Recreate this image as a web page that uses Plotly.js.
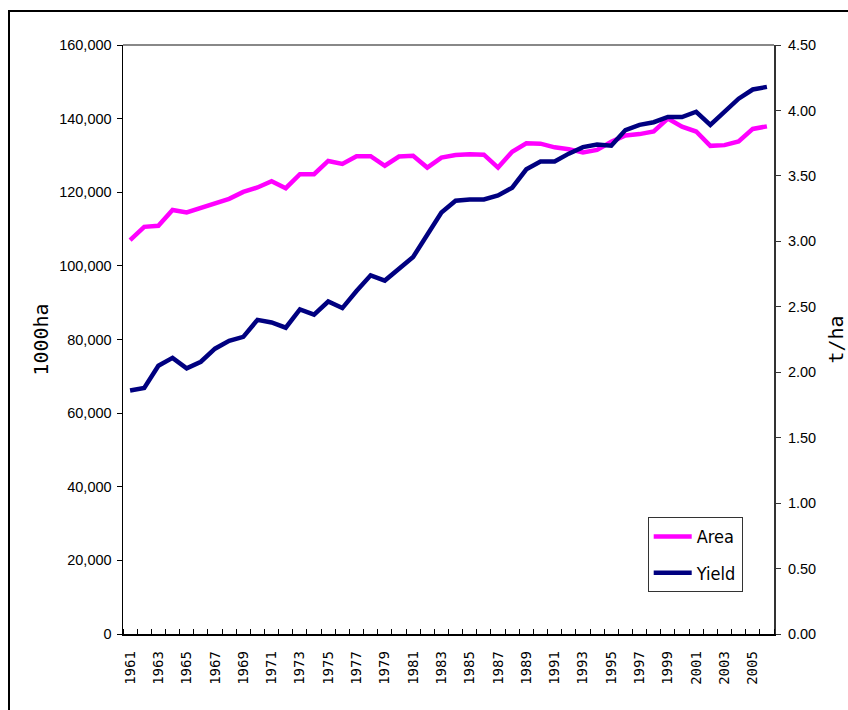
<!DOCTYPE html>
<html>
<head>
<meta charset="utf-8">
<script src="https://cdn.plot.ly/plotly-3.0.1.min.js"></script>
<style>
  html, body { margin: 0; padding: 0; background: #fff; }
  #wrap { position: relative; width: 848px; height: 710px; overflow: hidden; }
  #chart { position: absolute; left: 0; top: 0; width: 848px; height: 710px; }
  #frame { position: absolute; left: 8px; top: 10px; width: 900px; height: 800px;
           border-left: 2px solid #000; border-top: 2px solid #000; pointer-events: none; }
</style>
</head>
<body>
<div id="wrap">
  <div id="chart"></div>
  <div id="frame"></div>
</div>
<script>
const years = [1961,1962,1963,1964,1965,1966,1967,1968,1969,1970,
               1971,1972,1973,1974,1975,1976,1977,1978,1979,1980,
               1981,1982,1983,1984,1985,1986,1987,1988,1989,1990,
               1991,1992,1993,1994,1995,1996,1997,1998,1999,2000,
               2001,2002,2003,2004,2005,2006];

const area = [107000,110600,110900,115200,114500,115700,116800,118200,120100,121300,
              123000,121100,124900,124900,128500,127700,129800,129800,127200,129700,
              129900,126700,129400,130100,130300,130200,126700,131000,133300,133200,
              132200,131700,130800,131500,133700,135400,135800,136500,140000,137800,
              136500,132600,132800,133800,137200,137900];

const yieldT = [1.86,1.88,2.05,2.11,2.03,2.08,2.18,2.24,2.27,2.40,
                2.38,2.34,2.48,2.44,2.54,2.49,2.62,2.74,2.70,2.79,
                2.88,3.05,3.22,3.31,3.32,3.32,3.35,3.41,3.55,3.61,
                3.61,3.67,3.72,3.74,3.73,3.85,3.89,3.91,3.95,3.95,
                3.99,3.89,3.99,4.09,4.16,4.18];

const labelYears = years.filter(y => y % 2 === 1 && y <= 2005);

const tickFont = {family: '"Liberation Sans", Arial, sans-serif', size: 14.5, color: '#000'};
const monoFont = {family: '"DejaVu Sans Mono", monospace', size: 14, color: '#000'};
const titleFont = {family: '"DejaVu Sans Mono", monospace', size: 20, color: '#000'};

const traces = [
  {x: years, y: area, name: 'Area', type: 'scatter', mode: 'lines',
   line: {color: '#FF00FF', width: 4.5}, legendgroup: 'a', yaxis: 'y'},
  {x: years, y: yieldT, name: 'Yield', type: 'scatter', mode: 'lines',
   line: {color: '#000080', width: 4.5}, legendgroup: 'b', yaxis: 'y2'}
];

const layout = {
  width: 848, height: 710,
  margin: {l: 123, r: 74, t: 45, b: 76, pad: 0},
  paper_bgcolor: '#fff', plot_bgcolor: '#fff',
  showlegend: true,
  legend: {x: 0.806, y: 0.071, xanchor: 'left', yanchor: 'bottom',
           bordercolor: '#333', borderwidth: 1, bgcolor: '#fff',
           font: {family: '"DejaVu Sans Condensed", "Liberation Sans", Arial, sans-serif', size: 18, color: '#000'},
           itemwidth: 38,
           tracegroupgap: 10, traceorder: 'grouped'},
  xaxis: {range: [1960.5, 2006.5], tickmode: 'array', tickvals: labelYears,
          ticktext: labelYears.map(String), tickangle: -90, tickfont: monoFont,
          ticks: '', showgrid: false, zeroline: false,
          showline: true, linecolor: '#000', linewidth: 1.5, ticklabelstandoff: 10,
          minor: {tick0: 1960.5, dtick: 1, ticks: 'inside', ticklen: 5, tickcolor: '#000', tickwidth: 1, showgrid: false}},
  yaxis: {range: [0, 160000], dtick: 20000, tickformat: ',', tickfont: tickFont,
          ticks: 'outside', ticklen: 5, tickcolor: '#000', showgrid: false, zeroline: false,
          showline: true, linecolor: '#000', linewidth: 1.5, ticklabelstandoff: 2,
          title: {text: '1000ha', font: titleFont, standoff: 5}},
  yaxis2: {range: [0, 4.5], dtick: 0.5, tickformat: '.2f', tickfont: tickFont,
           overlaying: 'y', side: 'right',
           ticks: 'outside', ticklen: 5, tickcolor: '#333', showgrid: false, zeroline: false,
           showline: true, linecolor: '#333', linewidth: 2, ticklabelstandoff: 4,
           title: {text: 't/ha', font: titleFont, standoff: 20}},
  shapes: [{type: 'line', xref: 'paper', yref: 'paper', x0: 0, x1: 1, y0: 1, y1: 1,
            line: {color: '#888', width: 2}}]
};

Plotly.newPlot('chart', traces, layout, {displayModeBar: false, staticPlot: true});
</script>
</body>
</html>
